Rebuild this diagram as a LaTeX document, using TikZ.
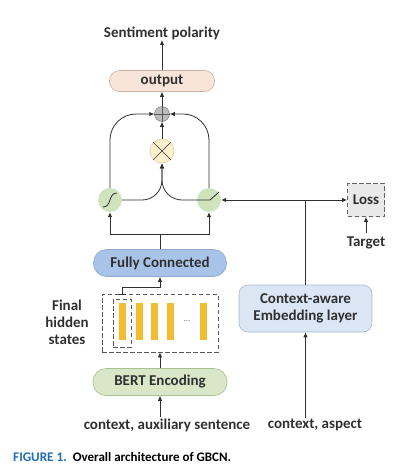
\documentclass[tikz,border=0pt]{standalone}
\usepackage{fontspec}
\setmainfont{Carlito}
\usetikzlibrary{arrows.meta,calc}
\definecolor{outfill}{HTML}{F8E4D8}
\definecolor{outdraw}{HTML}{C8B2A6}
\definecolor{plusfill}{HTML}{BDBDBD}
\definecolor{mulfill}{HTML}{FFF1CC}
\definecolor{muldraw}{HTML}{D9C89A}
\definecolor{gatefill}{HTML}{CFE3BD}
\definecolor{fcfill}{HTML}{A8C3E8}
\definecolor{fcdraw}{HTML}{8DA9D2}
\definecolor{bertfill}{HTML}{D7E7C7}
\definecolor{bertdraw}{HTML}{A9C192}
\definecolor{cefill}{HTML}{DAE6F4}
\definecolor{cedraw}{HTML}{A3B5CE}
\definecolor{lossfill}{HTML}{E9E9E9}
\definecolor{barfill}{HTML}{F2BD30}
\definecolor{capblue}{HTML}{1E6DB4}
\definecolor{ink}{HTML}{303030}
\begin{document}
\begin{tikzpicture}[x=1pt,y=-1pt,
  every node/.style={font=\fontsize{15}{17}\selectfont\bfseries, text=ink},
  arr/.style={-{Latex[length=5pt,width=4.5pt]}, draw=ink, line width=0.8pt},
  ln/.style={draw=ink, line width=0.8pt},
  dsh/.style={draw=ink!80, dash pattern=on 4.5pt off 2.5pt, line width=0.8pt},
  rbox/.style={rounded corners=#1, draw, line width=0.6pt, align=center, inner sep=0pt},
  gate/.style={circle, fill=gatefill, minimum size=24pt, inner sep=0pt},
  bar/.style={fill=barfill, minimum width=7pt, minimum height=37pt, inner sep=0pt}
]
\useasboundingbox (0,0) rectangle (403,472);
% top
\node (sp) at (162,33) {Sentiment polarity};
\node[rbox=10pt, fill=outfill, draw=outdraw, minimum width=105pt, minimum height=21pt] (out) at (162,81) {output};
\node[circle, fill=plusfill, draw=gray, line width=0.5pt, minimum size=15pt, inner sep=0pt] (plus) at (162,114) {};
\draw[line width=0.7pt, draw=ink!80] (plus.north) -- (plus.south) (plus.west) -- (plus.east);
\node[circle, fill=mulfill, draw=muldraw, line width=0.5pt, minimum size=24pt, inner sep=0pt] (mul) at (162,151) {};
\draw[line width=0.7pt, draw=ink] (mul.north west) -- (mul.south east) (mul.north east) -- (mul.south west);
% gates
\node[gate] (g1) at (110,200) {};
\node[gate] (g2) at (209,200) {};
\draw[line width=0.8pt, draw=ink] (103,207) .. controls (112,207) and (108,193) .. (117,193);
\draw[line width=0.8pt, draw=ink] (g2.west) -- (210,200) -- (219,192);
% connections top
\draw[arr] (sp.south |- out.north) -- ([yshift=3pt]sp.south);
\draw[arr] (plus.north) -- (out.south);
\draw[arr] (mul.north) -- (plus.south);
\draw[arr, rounded corners=26pt] (g1.north) |- (plus.west);
\draw[arr, rounded corners=26pt] (g2.north) |- (plus.east);
\draw[arr, rounded corners=20pt] (g1.east) -| (mul.south);
\draw[arr, rounded corners=20pt] (g2.west) -| (mul.south);
% FC
\node[rbox=13pt, fill=fcfill, draw=fcdraw, minimum width=133pt, minimum height=27pt] (fc) at (160,263) {Fully Connected};
\coordinate (jn) at (160,234);
\draw[ln] (fc.north) -- (jn);
\draw[arr] (jn) -| (g1.south);
\draw[arr] (jn) -| (g2.south);
% hidden states
\node[dsh, minimum width=116pt, minimum height=58pt, inner sep=0pt] (hid) at (160,323) {};
\node[dsh, minimum width=18pt, minimum height=48pt, inner sep=0pt] (inb) at (122,323) {};
\node[bar] (b1) at (122.5,321.5) {};
\node[bar] (b2) at (139.5,321.5) {};
\node[bar] (b3) at (154.5,321.5) {};
\node[bar] (b4) at (170.5,321.5) {};
\node[bar] (b5) at (203.5,321.5) {};
\node[font=\fontsize{9}{9}\selectfont, text=gray] (dots) at (187,321) {...};
\coordinate (ts) at (122,294);
\draw[ln] ([xshift=-4pt]ts) -- ([xshift=4pt]ts);
\draw[arr] (ts) |- (160,287) -- (fc.south);
\node (fhs) at (67,322) [align=center] {Final\\hidden\\states};
% BERT
\node[rbox=13pt, fill=bertfill, draw=bertdraw, minimum width=134pt, minimum height=27pt] (bert) at (160,382) {BERT Encoding};
\draw[arr] (bert.north) -- (hid.south);
\node (in1) at (167,425) {context, auxiliary sentence};
\draw[arr] ([yshift=-2pt]in1.north -| bert.south) -- (bert.south);
% context-aware
\node[rbox=9pt, fill=cefill, draw=cedraw, minimum width=133pt, minimum height=47pt] (ce) at (305.5,308.5) {Context-aware\\Embedding layer};
\node (in2) at (315,425) {context, aspect};
\draw[arr] ([yshift=-2pt]in2.north -| ce.south) -- (ce.south);
% loss
\node[dsh, draw=ink!75, fill=lossfill, minimum width=37pt, minimum height=33pt, inner sep=0pt] (loss) at (366,200) {Loss};
\node (tg) at (366,243) {Target};
\draw[arr] (tg.north) -- (loss.south);
\coordinate (jr) at (ce.north |- g2);
\draw[ln] (ce.north) -- (jr);
\draw[arr] (jr) -- (g2.east);
\draw[arr] (jr) -- (loss.west);
% caption
\node[anchor=base west, inner sep=0pt, font=\fontsize{13}{15}\selectfont\bfseries] (cap) at (13,461) {\textcolor{capblue}{\fontsize{13.2}{15}\selectfont FIGURE 1.}\hspace{6pt}\textcolor{black}{Overall architecture of GBCN.}};
\end{tikzpicture}
\end{document}
